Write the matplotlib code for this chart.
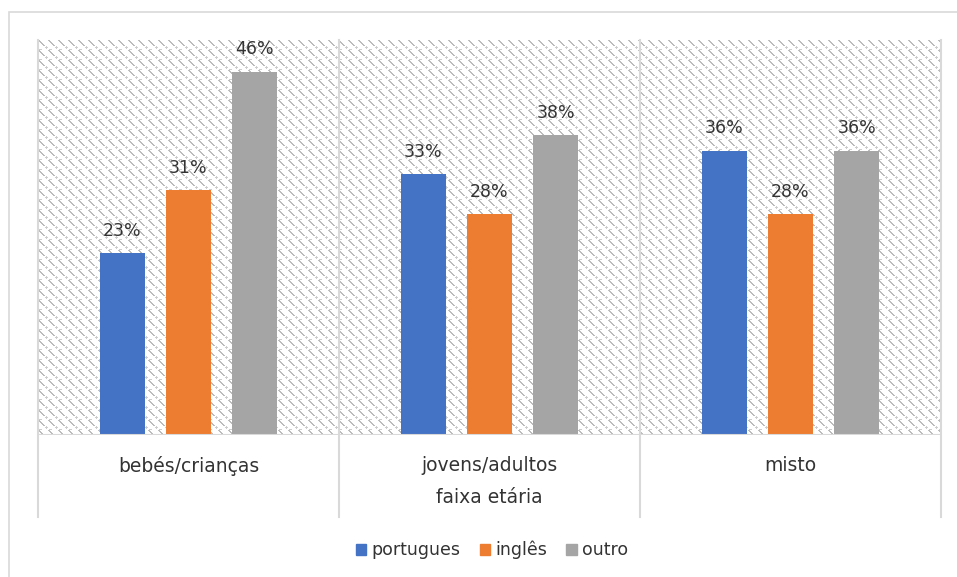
import numpy as np
import matplotlib
matplotlib.use("Agg")
import matplotlib.pyplot as plt
from matplotlib.patches import Rectangle
from matplotlib.lines import Line2D

plt.rcParams['font.family'] = ['DejaVu Sans']

categories = ["bebés/crianças", "jovens/adultos", "misto"]
series_names = ["portugues", "inglês", "outro"]
portugues = [23, 33, 36]
ingles = [31, 28, 28]
outro = [46, 38, 36]
series_values = [portugues, ingles, outro]
colors = ["#4472C4", "#ED7D31", "#A5A5A5"]
axis_title = "faixa etária"

W, H, DPI = 957, 577, 100
fig = plt.figure(figsize=(W / DPI, H / DPI), dpi=DPI)

# chart border
fig.patches.append(Rectangle((9 / W, -0.01), (W + 10) / W, 1 - 12 / H + 0.01,
                             transform=fig.transFigure, fill=False,
                             edgecolor="#d9d9d9", linewidth=1.2))

left, right, top, bottom = 38, 941, 40, 435
ax = fig.add_axes([left / W, 1 - bottom / H, (right - left) / W, (bottom - top) / H])

# dashed stair-step diagonal texture for the plot area (10 px tile)
pw, ph = right - left, bottom - top
n = 10
tile = np.ones((n, n))
for k in range(6):
    tile[k, k] = 0.0
    tile[k, (k + 1) % n] = 0.0
for r, c in [(6, 8), (7, 7), (7, 8), (7, 9), (8, 8), (9, 1), (9, 2), (9, 3)]:
    tile[r, c] = 0.5
img = np.tile(tile, (ph // n + 1, pw // n + 1))[:ph, :pw]
rgb = np.ones(img.shape + (3,))
rgb[img == 0.0] = 0.74
rgb[img == 0.5] = 0.80
ax.imshow(rgb, extent=(-0.5, 2.5, 0, 50), aspect="auto", interpolation="nearest", zorder=0)

x = np.arange(len(categories))
offsets = [-0.22, 0.0, 0.22]
width = 0.15
for vals, off, col, name in zip(series_values, offsets, colors, series_names):
    bars = ax.bar(x + off, vals, width, color=col, label=name, zorder=3)
    for b, v in zip(bars, vals):
        ax.annotate(f"{v}%", (b.get_x() + b.get_width() / 2, v), xytext=(0, 9.5),
                    textcoords="offset points", ha="center", va="bottom",
                    fontsize=12.5, color="#333333", zorder=4)

ax.set_xlim(-0.5, 2.5)
ax.set_ylim(0, 50)
ax.set_xticks([])
ax.set_yticks([])
for s in ax.spines.values():
    s.set_visible(False)
ax.axhline(0, color="#d9d9d9", linewidth=1.5, zorder=5)

# category separators extending below the axis
for xs in [-0.5, 0.5, 1.5, 2.5]:
    ax.add_line(Line2D([xs, xs], [-10.4, 50], color="#d9d9d9", linewidth=1.5,
                       clip_on=False, zorder=2))

for xi, cat in zip(x, categories):
    ax.text(xi, -3.9, cat, ha="center", va="center", fontsize=13.5, color="#333333")
ax.text(1, -7.9, axis_title, ha="center", va="center", fontsize=13.5, color="#333333")

handles = [Rectangle((0, 0), 1, 1, color=c) for c in colors]
fig.legend(handles, series_names, loc="center", bbox_to_anchor=(492 / W, 1 - 550 / H),
           ncol=3, frameon=False, fontsize=12.5, handlelength=0.6, handleheight=0.6,
           handletextpad=0.3, columnspacing=1.1, labelcolor="#333333")

fig.savefig("out.png", dpi=DPI)
